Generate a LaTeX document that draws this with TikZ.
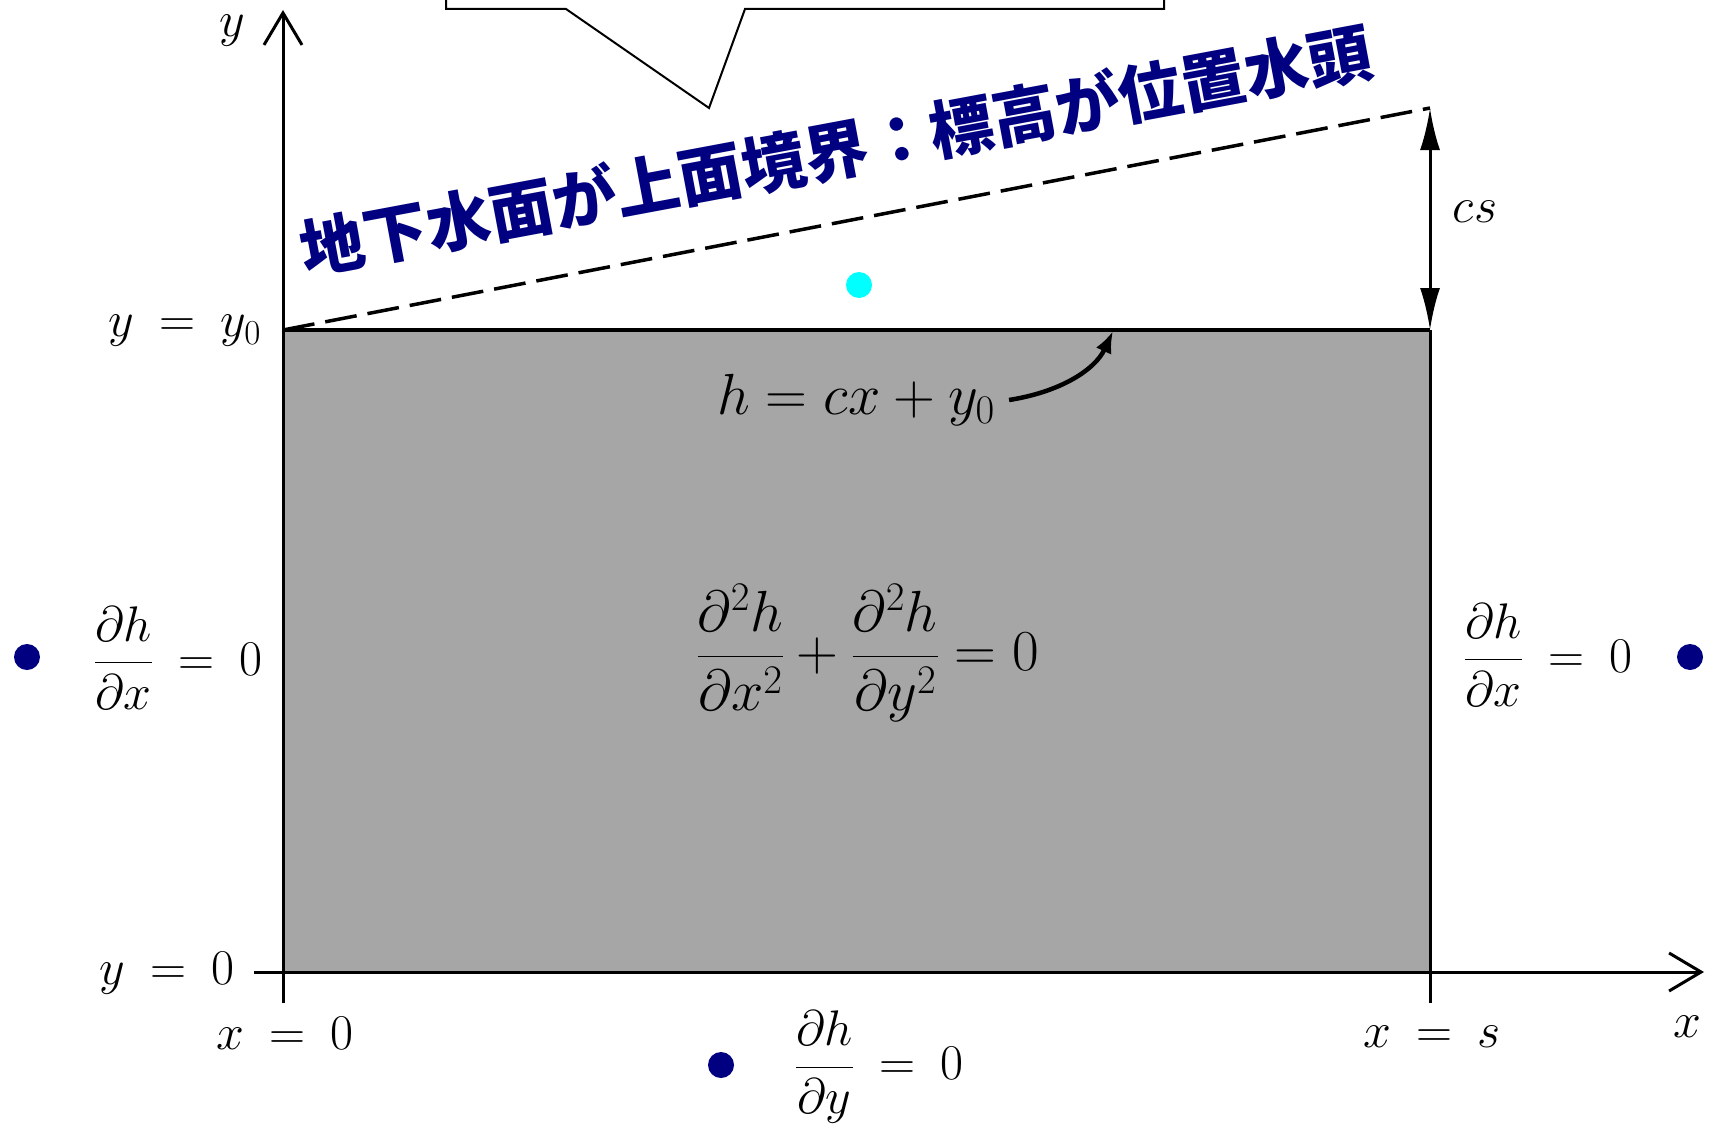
\RequirePackage{fix-cm}
\documentclass[tikz,border=0pt]{standalone}
\usepackage{fontspec}
\newfontfamily\jpfont{Noto Sans CJK JP}
\usetikzlibrary{arrows.meta}
\definecolor{navy}{RGB}{0,0,128}
\definecolor{aqua}{RGB}{0,255,255}
\tikzstyle{lbl}=[font=\fontsize{50}{56}\selectfont,inner sep=0pt]
\tikzstyle{biglbl}=[font=\fontsize{58}{64}\selectfont,inner sep=0pt]
\tikzstyle{bcdot}=[circle,fill=navy,minimum size=26pt,inner sep=0pt]
\tikzstyle{axis}=[line width=3pt,-{Straight Barb[length=32pt,width=38pt]}]

\begin{document}
\begin{tikzpicture}[x=1pt,y=-1pt]
  \clip (0,0) rectangle (1718,1129);
  \fill[white] (0,0) rectangle (1718,1129);
  \coordinate (yo) at (283,330);
  \coordinate (sy) at (1430,330);
  \coordinate (top) at (1430,108);
  \coordinate (hp) at (1113,331);
  \fill[black!35] (yo) rectangle (1430,972);
  \draw[fill=white,line width=2pt] (446,-20) -- (446,9) -- (566,9) -- (709,108)
    -- (745,9) -- (1164,9) -- (1164,-20);

  \draw[axis] (283,1003) -- (283,10);
  \draw[axis] (254,972) -- (1704,972);
  \draw[line width=3pt] (1430,1003) -- (sy);
  \draw[line width=4pt] (yo) -- (sy);
  \draw[line width=3.5pt,dash pattern=on 32pt off 11pt] (yo) -- (top);
  \draw[line width=3pt,{Latex[length=42pt,width=20pt]}-{Latex[length=42pt,width=20pt]}] (top) -- (sy);

  \node[lbl] (ylab) at (232,31) {$y$};
  \node[lbl] (xlab) at (1687,1027) {$x$};
  \node[lbl] (yy0) at (185,331) {$y\:=\:y_0$};
  \node[lbl] (y0) at (167,973) {$y\:=\:0$};
  \node[lbl] (x0) at (285,1033) {$x\:=\:0$};
  \node[lbl] (xs) at (1432,1037) {$x\:=\:s$};
  \node[lbl] (cs) at (1475,212) {$cs$};
  \node[biglbl] (hlab) at (856,400) {$h = cx + y_0$};
  \draw[line width=4.5pt,-{Latex[length=22pt,width=17pt]}] ([xshift=14pt]hlab.east)
    .. controls (1060,392) and (1095,370) .. (hp);
  \node[biglbl] (pde) at (868,653)
    {$\displaystyle\frac{\partial^2 h}{\partial x^2}+\frac{\partial^2 h}{\partial y^2}=0$};
  \node[lbl] (bcl) at (178,658) {$\displaystyle\frac{\partial h}{\partial x}\:=\:0$};
  \node[lbl] (bcr) at (1548,655) {$\displaystyle\frac{\partial h}{\partial x}\:=\:0$};
  \node[lbl] (bcb) at (879,1067) {$\displaystyle\frac{\partial h}{\partial y}\:=\:0$};

  \node[text=navy,font=\jpfont\bfseries\fontsize{64}{70}\selectfont,rotate=10.6,inner sep=0pt]
    (title) at (836,150) {地下水面が上面境界：標高が位置水頭};

  \node[bcdot] (dl) at (27,657) {};
  \node[bcdot] (dr) at (1690,657) {};
  \node[bcdot] (db) at (721,1065) {};
  \node[bcdot,fill=aqua] (dc) at (859,285) {};
\end{tikzpicture}
\end{document}
